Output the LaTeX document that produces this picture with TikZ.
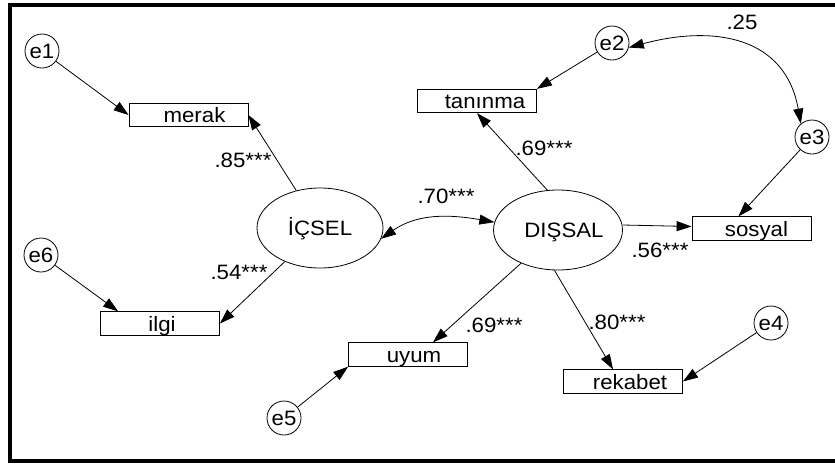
\documentclass[tikz,border=0pt]{standalone}
\usepackage{fontspec}
\setmainfont{Liberation Sans}[FakeStretch=1.07]
\usetikzlibrary{arrows.meta,shapes.geometric}
\begin{document}
\begin{tikzpicture}[x=1pt,y=-1pt,
  font=\fontsize{20.8}{24}\selectfont,
  obs/.style={draw, line width=0.8pt, minimum width=119pt, minimum height=23.5pt, inner sep=0pt, text height=15pt, text depth=0pt},
  lat/.style={draw, ellipse, line width=0.8pt, minimum width=126pt, minimum height=80pt, inner sep=0pt, text height=15pt, text depth=0pt},
  err/.style={draw, circle, line width=0.8pt, minimum size=34pt, inner sep=0pt},
  arr/.style={-{Triangle[length=15pt,width=10pt]}, line width=0.8pt},
  darr/.style={{Triangle[length=15pt,width=10pt]}-{Triangle[length=15pt,width=10pt]}, line width=0.8pt},
  coef/.style={inner sep=0pt}]
\useasboundingbox (0,0) rectangle (835,464);
\fill[white] (0,0) rectangle (835,464);
% frame
\draw[line width=4pt, line join=miter] (845,5) -- (9.5,5) -- (9.5,461) -- (845,461);

% observed variables
\node[obs] (merak)   at (188.5,115)   {\hspace*{12pt}merak};
\node[obs] (tanina)  at (477,101)     {\hspace*{16pt}tanınma};
\node[obs] (ilgi)    at (160,323.5)   {\hspace*{4pt}ilgi};
\node[obs] (uyum)    at (408,354.5)   {\hspace*{12pt}uyum};
\node[obs] (sosyal)  at (751.5,228.5) {\hspace*{10pt}sosyal};
\node[obs] (rekabet) at (623,381.5)   {\hspace*{14pt}rekabet};

% latent variables
\node[lat] (icsel)  at (320,228) {İÇSEL};
\node[lat] (dissal) at (558,230) {\hspace*{12pt}DIŞSAL};

% errors
\node[err] (e1) at (42,51)   {e1};
\node[err] (e2) at (612,43)  {e2};
\node[err] (e3) at (812,137) {e3};
\node[err] (e4) at (771,323) {e4};
\node[err] (e5) at (284,418) {e5};
\node[err] (e6) at (41,255)  {e6};

% paths
\draw[arr] (e1) -- (merak.west);
\draw[arr] (icsel) -- (merak.east);
\draw[arr] (e6) -- ([xshift=18pt]ilgi.north west);
\draw[arr] (icsel) -- (ilgi.east);
\draw[arr] (e5) -- (uyum.south west);
\draw[arr] (dissal) -- ([xshift=25pt]uyum.north);
\draw[arr] (dissal.105) -- (tanina.south);
\draw[arr] (e2) -- (tanina.north east);
\draw[arr] ([yshift=5pt]dissal.east) -- ([yshift=2pt]sosyal.west);
\draw[arr] (e3) -- ([xshift=-13pt]sosyal.north);
\draw[arr] (dissal.-95) -- ([xshift=-10pt]rekabet.north);
\draw[arr] (e4) -- (rekabet.east);
\draw[darr] (icsel.-10) to[out=35,in=170] (dissal.173);
\draw[darr] (e2.-15) to[out=15,in=100,looseness=1.2] (e3.130);

% coefficients
\node[coef] (c1) at (243,160) {.85***};
\node[coef] (c2) at (239,272) {.54***};
\node[coef] (c3) at (446,196) {.70***};
\node[coef] (c4) at (544,148) {.69***};
\node[coef] (c5) at (660,250) {.56***};
\node[coef] (c6) at (494,325) {.69***};
\node[coef] (c7) at (617,322) {.80***};
\node[coef] (c8) at (742,22)  {.25};
\end{tikzpicture}
\end{document}
